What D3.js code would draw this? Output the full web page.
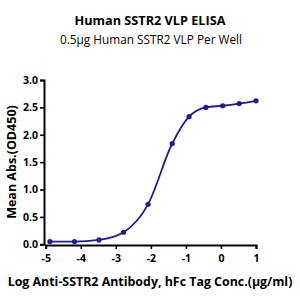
<!DOCTYPE html>
<html>
<head>
<meta charset="utf-8">
<script src="https://cdn.jsdelivr.net/npm/d3@7"></script>
<style>
  body { margin: 0; background: #fff; }
  text { font-family: "Open Sans", "Noto Sans", sans-serif; }
</style>
</head>
<body>
<script>
// data
var logConc = [-4.88, -4.18, -3.48, -2.78, -2.08, -1.39, -0.91, -0.43, 0.05, 0.52, 1.0];
var od450 = [0.05, 0.05, 0.08, 0.22, 0.73, 1.84, 2.33, 2.50, 2.53, 2.57, 2.62];
var xTicks = [-5, -4, -3, -2, -1, 0, 1];
var yTicks = [0, 0.5, 1, 1.5, 2, 2.5, 3];

var width = 300, height = 300;
var blue = "#1c1c9c";

var svg = d3.select("body").append("svg")
    .attr("width", width)
    .attr("height", height);

var x = d3.scaleLinear().domain([-5, 1]).range([45.7, 256]);
var y = d3.scaleLinear().domain([0, 3]).range([244.3, 80]);

// titles
svg.append("text")
    .attr("x", 150).attr("y", 25)
    .attr("text-anchor", "middle")
    .style("font-size", "12.7px").style("font-weight", "bold")
    .text("Human SSTR2 VLP ELISA");
svg.append("text")
    .attr("x", 151).attr("y", 44)
    .attr("text-anchor", "middle")
    .style("font-size", "11.8px")
    .text("0.5μg Human SSTR2 VLP Per Well");

// axes
var yAxis = svg.append("g")
    .attr("transform", "translate(44,0)")
    .call(d3.axisLeft(y).tickValues(yTicks).tickFormat(d3.format(".1f")).tickSize(4).tickPadding(2));
var xAxis = svg.append("g")
    .attr("transform", "translate(0,245)")
    .call(d3.axisBottom(x).tickValues(xTicks).tickFormat(d3.format("d")).tickSize(4).tickPadding(6));

[xAxis, yAxis].forEach(function(a) {
  a.select(".domain").attr("stroke-width", 2).attr("stroke", "#000");
  a.selectAll(".tick line").attr("stroke-width", 1.6).attr("stroke", "#000");
  a.selectAll(".tick text")
      .style("font-size", "10.5px").style("font-weight", "bold")
      .style("font-family", "'Open Sans', 'Noto Sans', sans-serif")
      .attr("fill", "#000");
});
xAxis.selectAll(".tick text").text(function(d) { return d < 0 ? "-" + Math.abs(d) : d; });

// axis labels
svg.append("text")
    .attr("transform", "translate(16,162) rotate(-90)")
    .attr("text-anchor", "middle")
    .style("font-size", "12.5px").style("font-weight", "bold")
    .text("Mean Abs.(OD450)");
svg.append("text")
    .attr("x", 150).attr("y", 286)
    .attr("text-anchor", "middle")
    .style("font-size", "12.4px").style("font-weight", "bold")
    .text("Log Anti-SSTR2 Antibody, hFc Tag Conc.(μg/ml)");

// curve through the points
var pts = logConc.map(function(d, i) { return [d, od450[i]]; });
var line = d3.line()
    .x(function(d) { return x(d[0]); })
    .y(function(d) { return y(d[1]); })
    .curve(d3.curveMonotoneX);

svg.append("path")
    .datum(pts)
    .attr("d", line)
    .attr("fill", "none")
    .attr("stroke", blue)
    .attr("stroke-width", 1.8);

svg.selectAll(".dot")
    .data(pts)
  .enter().append("circle")
    .attr("class", "dot")
    .attr("cx", function(d) { return x(d[0]); })
    .attr("cy", function(d) { return y(d[1]); })
    .attr("r", 2.6)
    .attr("fill", blue);
</script>
</body>
</html>
